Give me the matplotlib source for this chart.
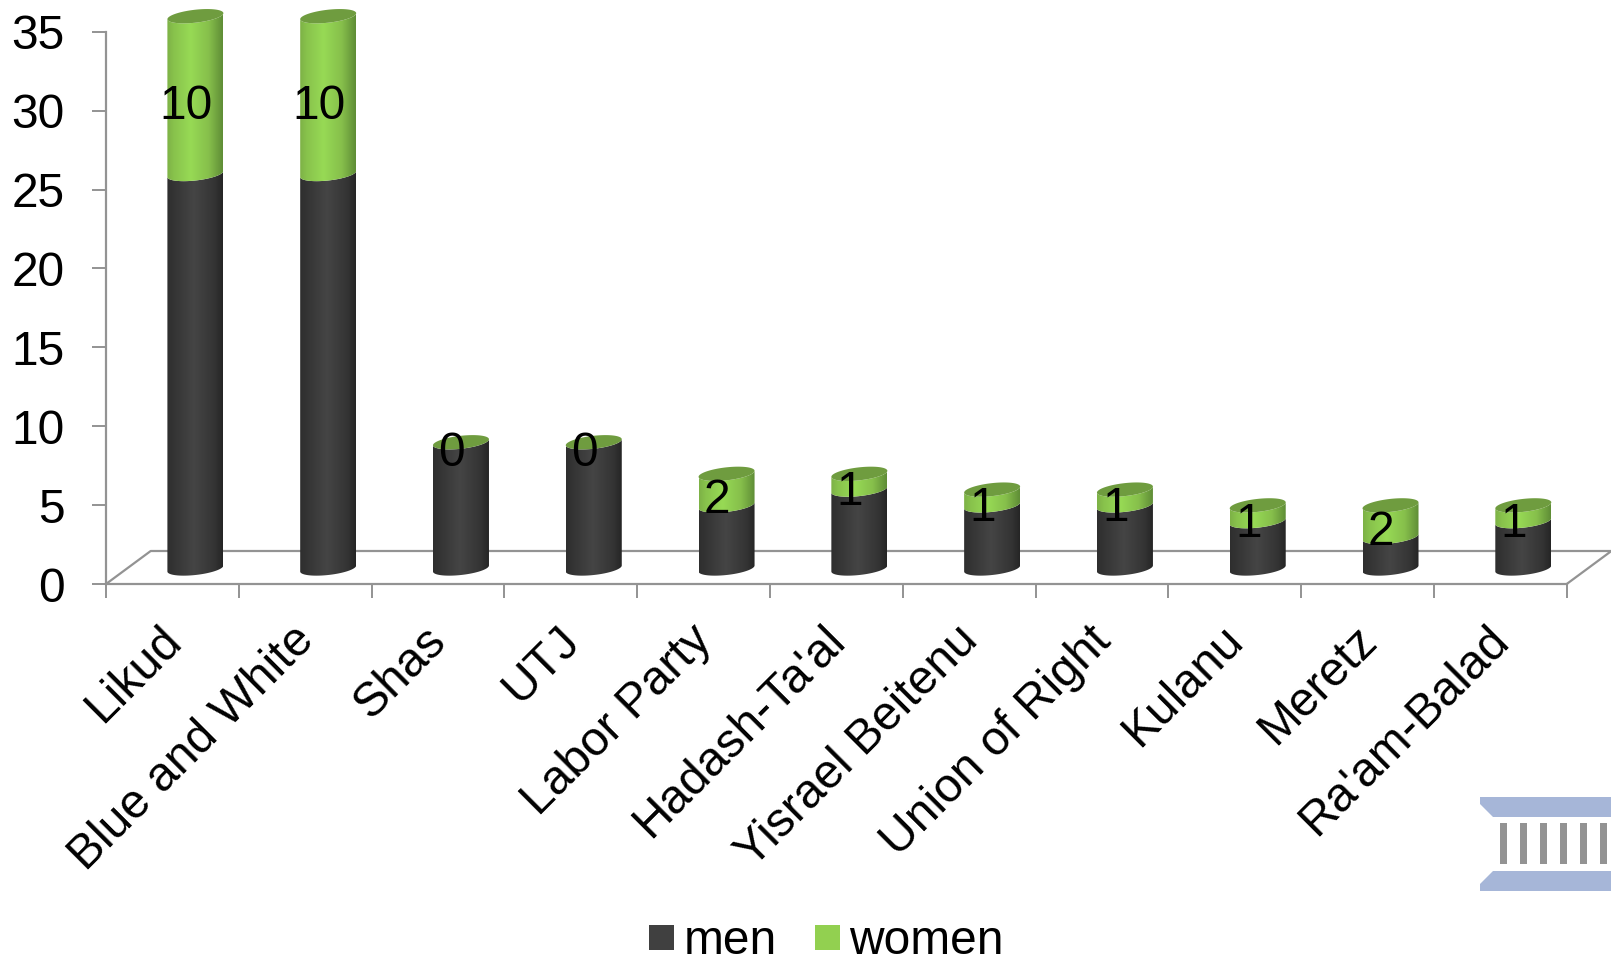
import numpy as np
import matplotlib
matplotlib.use("Agg")
import matplotlib.pyplot as plt
from matplotlib.colors import LinearSegmentedColormap
from matplotlib.lines import Line2D
from matplotlib.patches import Patch, PathPatch, Polygon, Rectangle
from matplotlib.path import Path
from matplotlib.transforms import Affine2D, ScaledTranslation

parties = ["Likud", "Blue and White", "Shas", "UTJ", "Labor Party", "Hadash-Ta'al",
           "Yisrael Beitenu", "Union of Right", "Kulanu", "Meretz", "Ra'am-Balad"]
men = [25, 25, 8, 8, 4, 5, 4, 4, 3, 2, 3]
women = [10, 10, 0, 0, 2, 1, 1, 1, 1, 2, 1]
y_ticks = [0, 5, 10, 15, 20, 25, 30, 35]

W, H = 1611, 958
GREY = "#939393"
DARK = "#404040"
GREEN = "#92d050"
plt.rcParams["font.family"] = ["Liberation Sans", "DejaVu Sans"]
FS = 34.5

fig = plt.figure(figsize=(W / 100, H / 100), dpi=100, facecolor="white")
ax = fig.add_axes([106 / W, (H - 584) / H, 1460.7 / W, 552.3 / H])
ax.set_xlim(0, 11)
ax.set_ylim(0, 35)
ax.set_facecolor("none")

px_x = 11 / 1460.7
px_y = 35 / 552.3

for s in ["top", "right"]:
    ax.spines[s].set_visible(False)
for s in ["left", "bottom"]:
    ax.spines[s].set_color(GREY)
    ax.spines[s].set_linewidth(1.6)

ax.set_yticks(y_ticks)
ax.tick_params(axis="y", length=10, width=1.4, color=GREY, pad=20, labelsize=FS, labelcolor="black")
ax.set_xticks(np.arange(12))
ax.set_xticklabels([])
ax.tick_params(axis="x", which="major", length=10, width=1.4, color=GREY)
ax.set_xticks(np.arange(11) + 0.5, minor=True)
ax.set_xticklabels(parties, minor=True, rotation=45, ha="right", va="top",
                   rotation_mode="anchor", fontsize=FS)
ax.tick_params(axis="x", which="minor", length=0, pad=24.3)
shift = ScaledTranslation(-14.2 / 100, 0, fig.dpi_scale_trans)
for lab in ax.get_xticklabels(minor=True):
    lab.set_transform(lab.get_transform() + shift)

# floor of the 3-D box
fdx, fdy = 44.7 * px_x, 33 * px_y
ax.add_line(Line2D([0, fdx, 11 + fdx, 11], [0, fdy, fdy, 0], color=GREY, lw=1.6,
                   clip_on=False, zorder=1))

dark_cmap = LinearSegmentedColormap.from_list(
    "d", [(0, "#2e2e2e"), (0.12, "#343434"), (0.48, "#454545"), (0.85, "#343434"), (1, "#252525")])
green_cmap = LinearSegmentedColormap.from_list(
    "g", [(0, "#7db146"), (0.12, "#88c24c"), (0.42, "#97da55"), (0.75, "#86bf4b"), (1, "#5f8d36")])
CAP = "#6f9c3f"

half_w = 28 * px_x
tilt = 3 * px_y
ell_h = 6.5 * px_y
off_x = 0.5 + 23 * px_x
off_y = 15.5 * px_y


def arc(cx, v, t0, t1, n=48):
    t = np.linspace(t0, t1, n)
    return np.column_stack([cx + half_w * np.cos(t), v + tilt * np.cos(t) + ell_h * np.sin(t)])


def segment(cx, v0, v1, cmap, z):
    low = arc(cx, v0, np.pi, 2 * np.pi)
    high = arc(cx, v1, 2 * np.pi, np.pi)
    verts = np.vstack([low, high, low[:1]])
    patch = PathPatch(Path(verts), fc="none", ec="none", transform=ax.transData, clip_on=False)
    ax.add_patch(patch)
    grad = np.linspace(0, 1, 256).reshape(1, -1)
    im = ax.imshow(grad, cmap=cmap, aspect="auto", interpolation="bilinear", zorder=z,
                   extent=(cx - half_w, cx + half_w, v0 - 1, v1 + 1))
    im.set_clip_box(fig.bbox)
    im.set_clip_path(patch)


for i, (m, f) in enumerate(zip(men, women)):
    cx = i + off_x
    segment(cx, off_y, off_y + m, dark_cmap, 3)
    if f > 0:
        segment(cx, off_y + m, off_y + m + f, green_cmap, 4)
    top = arc(cx, off_y + m + f, 0, 2 * np.pi, 72)
    ax.add_patch(Polygon(top, closed=True, fc=CAP, ec="none", zorder=5, clip_on=False))
    ax.annotate(str(f), (cx, off_y + m + f / 2), xytext=(-9.5 * 0.72, -11 * 0.72),
                textcoords="offset points", ha="center", va="center",
                fontsize=FS, color="black", zorder=6, annotation_clip=False)

ax.set_xlim(0, 11)
ax.set_ylim(0, 35)

leg = fig.legend(handles=[Patch(fc=DARK, ec="none", label="men"), Patch(fc=GREEN, ec="none", label="women")],
                 ncol=2, frameon=False, fontsize=FS, loc="center",
                 bbox_to_anchor=(826.6 / W, (H - 942) / H), bbox_transform=fig.transFigure,
                 handlelength=0.52, handleheight=0.423, handletextpad=0.19, columnspacing=0.81,
                 borderpad=0, borderaxespad=0)

# logo, lower right corner (figure pixels, y downwards)
tp = Affine2D().scale(1 / W, -1 / H).translate(0, 1) + fig.transFigure
BLUE = "#a6b6d8"
fig.add_artist(Polygon([(1480, 797), (1611, 797), (1611, 817), (1493, 817), (1480, 804)],
                       closed=True, fc=BLUE, ec="none", transform=tp))
fig.add_artist(Polygon([(1493, 871), (1611, 871), (1611, 891), (1480, 891), (1480, 884)],
                       closed=True, fc=BLUE, ec="none", transform=tp))
for x0 in (1500, 1520, 1540, 1560, 1580, 1600):
    fig.add_artist(Rectangle((x0, 823), 7, 41, fc="#939393", ec="none", transform=tp))

fig.savefig("out.png", dpi=100, facecolor="white")
